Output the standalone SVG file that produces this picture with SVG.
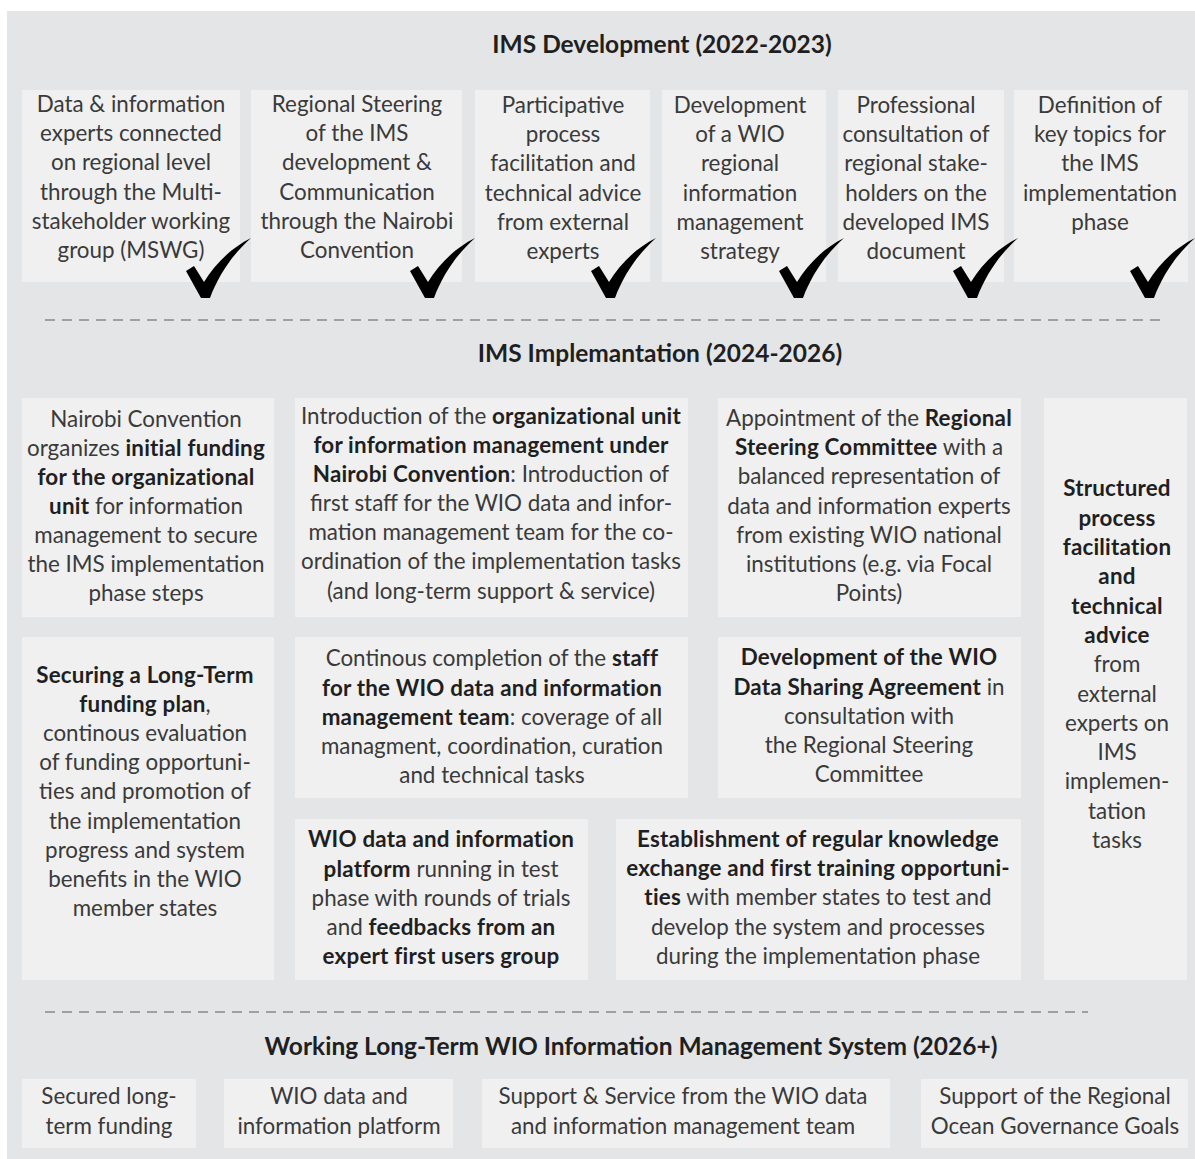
<svg xmlns="http://www.w3.org/2000/svg" width="1195" height="1159" viewBox="0 0 1195 1159">
<style>
.bg{fill:#e4e5e7}
.box{fill:#f0f0f1}
text{font-family:Lato,"Open Sans","Liberation Sans",sans-serif;font-size:22.4px;fill:#3a3a3a;text-anchor:middle}
.b{font-weight:bold;fill:#1f1f1f;letter-spacing:0.2px}
.h{font-weight:bold;font-size:24.5px;fill:#1f1f1f}
.dash{stroke:#a0a0a0;stroke-width:2;stroke-dasharray:10 7;fill:none}
.chk{fill:#000}
</style>
<defs>
<path id="chk" class="chk" d="M-21,-27 L-13,-32 L-3,-16 C8,-34 24,-50 44,-60 C26,-44 12,-24 3,0 L-6,0 Z"/>
</defs>
<rect class="bg" x="7" y="11" width="1188" height="1148"/>

<g id="title-dev"><text class="h" x="662" y="53">IMS Development (2022-2023)</text></g>

<g id="dev1">
<rect class="box" x="22" y="90" width="218" height="192"/>
<text x="131" y="112">Data &amp; information</text>
<text x="131" y="141">experts connected</text>
<text x="131" y="170">on regional level</text>
<text x="131" y="200">through the Multi-</text>
<text x="131" y="229">stakeholder working</text>
<text x="131" y="258">group (MSWG)</text>
</g>
<g id="dev2">
<rect class="box" x="251" y="90" width="211" height="192"/>
<text x="357" y="112">Regional Steering</text>
<text x="357" y="141">of the IMS</text>
<text x="357" y="170">development &amp;</text>
<text x="357" y="200">Communication</text>
<text x="357" y="229">through the Nairobi</text>
<text x="357" y="258">Convention</text>
</g>
<g id="dev3">
<rect class="box" x="475" y="90" width="175" height="192"/>
<text x="563" y="113">Participative</text>
<text x="563" y="142">process</text>
<text x="563" y="171">facilitation and</text>
<text x="563" y="201">technical advice</text>
<text x="563" y="230">from external</text>
<text x="563" y="259">experts</text>
</g>
<g id="dev4">
<rect class="box" x="662" y="90" width="164" height="192"/>
<text x="740" y="113">Development</text>
<text x="740" y="142">of a WIO</text>
<text x="740" y="171">regional</text>
<text x="740" y="201">information</text>
<text x="740" y="230">management</text>
<text x="740" y="259">strategy</text>
</g>
<g id="dev5">
<rect class="box" x="838" y="90" width="166" height="192"/>
<text x="916" y="113">Professional</text>
<text x="916" y="142">consultation of</text>
<text x="916" y="171">regional stake-</text>
<text x="916" y="201">holders on the</text>
<text x="916" y="230">developed IMS</text>
<text x="916" y="259">document</text>
</g>
<g id="dev6">
<rect class="box" x="1014" y="90" width="174" height="192"/>
<text x="1100" y="113">Definition of</text>
<text x="1100" y="142">key topics for</text>
<text x="1100" y="171">the IMS</text>
<text x="1100" y="201">implementation</text>
<text x="1100" y="230">phase</text>
</g>

<g id="checks">
<use href="#chk" transform="translate(207,298)"/>
<use href="#chk" transform="translate(431,298)"/>
<use href="#chk" transform="translate(612,298)"/>
<use href="#chk" transform="translate(800,298)"/>
<use href="#chk" transform="translate(974,298)"/>
<use href="#chk" transform="translate(1151,298)"/>
</g>

<g id="separators">
<line class="dash" x1="45" y1="320" x2="1160" y2="320"/>
<line class="dash" x1="45" y1="1012" x2="1088" y2="1012"/>
</g>

<g id="title-impl"><text class="h" x="660" y="362">IMS Implemantation (2024-2026)</text></g>

<g id="implA">
<rect class="box" x="22" y="398" width="252" height="219"/>
<text x="146" y="427">Nairobi Convention</text>
<text x="146" y="456">organizes <tspan class="b">initial funding</tspan></text>
<text x="146" y="485"><tspan class="b">for the organizational</tspan></text>
<text x="146" y="514"><tspan class="b">unit</tspan> for information</text>
<text x="146" y="543">management to secure</text>
<text x="146" y="572">the IMS implementation</text>
<text x="146" y="601">phase steps</text>
</g>
<g id="implB">
<rect class="box" x="295" y="398" width="393" height="219"/>
<text x="491" y="424">Introduction of the <tspan class="b">organizational unit</tspan></text>
<text x="491" y="453"><tspan class="b">for information management under</tspan></text>
<text x="491" y="482"><tspan class="b">Nairobi Convention</tspan>: Introduction of</text>
<text x="491" y="511">first staff for the WIO data and infor-</text>
<text x="491" y="540">mation management team for the co-</text>
<text x="491" y="569">ordination of the implementation tasks</text>
<text x="491" y="599">(and long-term support &amp; service)</text>
</g>
<g id="implC">
<rect class="box" x="718" y="398" width="303" height="219"/>
<text x="869" y="426">Appointment of the <tspan class="b">Regional</tspan></text>
<text x="869" y="455"><tspan class="b">Steering Committee</tspan> with a</text>
<text x="869" y="484">balanced representation of</text>
<text x="869" y="514">data and information experts</text>
<text x="869" y="543">from existing WIO national</text>
<text x="869" y="572">institutions (e.g. via Focal</text>
<text x="869" y="601">Points)</text>
</g>
<g id="implD">
<rect class="box" x="1044" y="398" width="143" height="582"/>
<text class="b" x="1117" y="496">Structured</text>
<text class="b" x="1117" y="526">process</text>
<text class="b" x="1117" y="555">facilitation</text>
<text class="b" x="1117" y="584">and</text>
<text class="b" x="1117" y="614">technical</text>
<text class="b" x="1117" y="643">advice</text>
<text x="1117" y="672">from</text>
<text x="1117" y="702">external</text>
<text x="1117" y="731">experts on</text>
<text x="1117" y="760">IMS</text>
<text x="1117" y="789">implemen-</text>
<text x="1117" y="819">tation</text>
<text x="1117" y="848">tasks</text>
</g>
<g id="implE">
<rect class="box" x="22" y="637" width="252" height="343"/>
<text class="b" x="145" y="683">Securing a Long-Term</text>
<text x="145" y="712"><tspan class="b">funding plan</tspan>,</text>
<text x="145" y="741">continous evaluation</text>
<text x="145" y="770">of funding opportuni-</text>
<text x="145" y="799">ties and promotion of</text>
<text x="145" y="829">the implementation</text>
<text x="145" y="858">progress and system</text>
<text x="145" y="887">benefits in the WIO</text>
<text x="145" y="916">member states</text>
</g>
<g id="implF">
<rect class="box" x="295" y="637" width="393" height="161"/>
<text x="492" y="666">Continous completion of the <tspan class="b">staff</tspan></text>
<text x="492" y="696"><tspan class="b">for the WIO data and information</tspan></text>
<text x="492" y="725"><tspan class="b">management team</tspan>: coverage of all</text>
<text x="492" y="754">managment, coordination, curation</text>
<text x="492" y="783">and technical tasks</text>
</g>
<g id="implG">
<rect class="box" x="718" y="637" width="303" height="161"/>
<text class="b" x="869" y="665">Development of the WIO</text>
<text x="869" y="695"><tspan class="b">Data Sharing Agreement</tspan> in</text>
<text x="869" y="724">consultation with</text>
<text x="869" y="753">the Regional Steering</text>
<text x="869" y="782">Committee</text>
</g>
<g id="implH">
<rect class="box" x="295" y="819" width="293" height="161"/>
<text class="b" x="441" y="847">WIO data and information</text>
<text x="441" y="877"><tspan class="b">platform</tspan> running in test</text>
<text x="441" y="906">phase with rounds of trials</text>
<text x="441" y="935">and <tspan class="b">feedbacks from an</tspan></text>
<text class="b" x="441" y="964">expert first users group</text>
</g>
<g id="implI">
<rect class="box" x="616" y="819" width="405" height="161"/>
<text class="b" x="818" y="847">Establishment of regular knowledge</text>
<text class="b" x="818" y="876">exchange and first training opportuni-</text>
<text x="818" y="905"><tspan class="b">ties</tspan> with member states to test and</text>
<text x="818" y="935">develop the system and processes</text>
<text x="818" y="964">during the implementation phase</text>
</g>

<g id="title-work"><text class="h" x="631" y="1055">Working Long-Term WIO Information Management System (2026+)</text></g>

<g id="work1">
<rect class="box" x="22" y="1079" width="174" height="69"/>
<text x="109" y="1104">Secured long-</text>
<text x="109" y="1134">term funding</text>
</g>
<g id="work2">
<rect class="box" x="224" y="1079" width="229" height="69"/>
<text x="339" y="1104">WIO data and</text>
<text x="339" y="1134">information platform</text>
</g>
<g id="work3">
<rect class="box" x="482" y="1079" width="408" height="69"/>
<text x="683" y="1104">Support &amp; Service from the WIO data</text>
<text x="683" y="1134">and information management team</text>
</g>
<g id="work4">
<rect class="box" x="921" y="1079" width="267" height="69"/>
<text x="1055" y="1104">Support of the Regional</text>
<text x="1055" y="1134">Ocean Governance Goals</text>
</g>
</svg>
